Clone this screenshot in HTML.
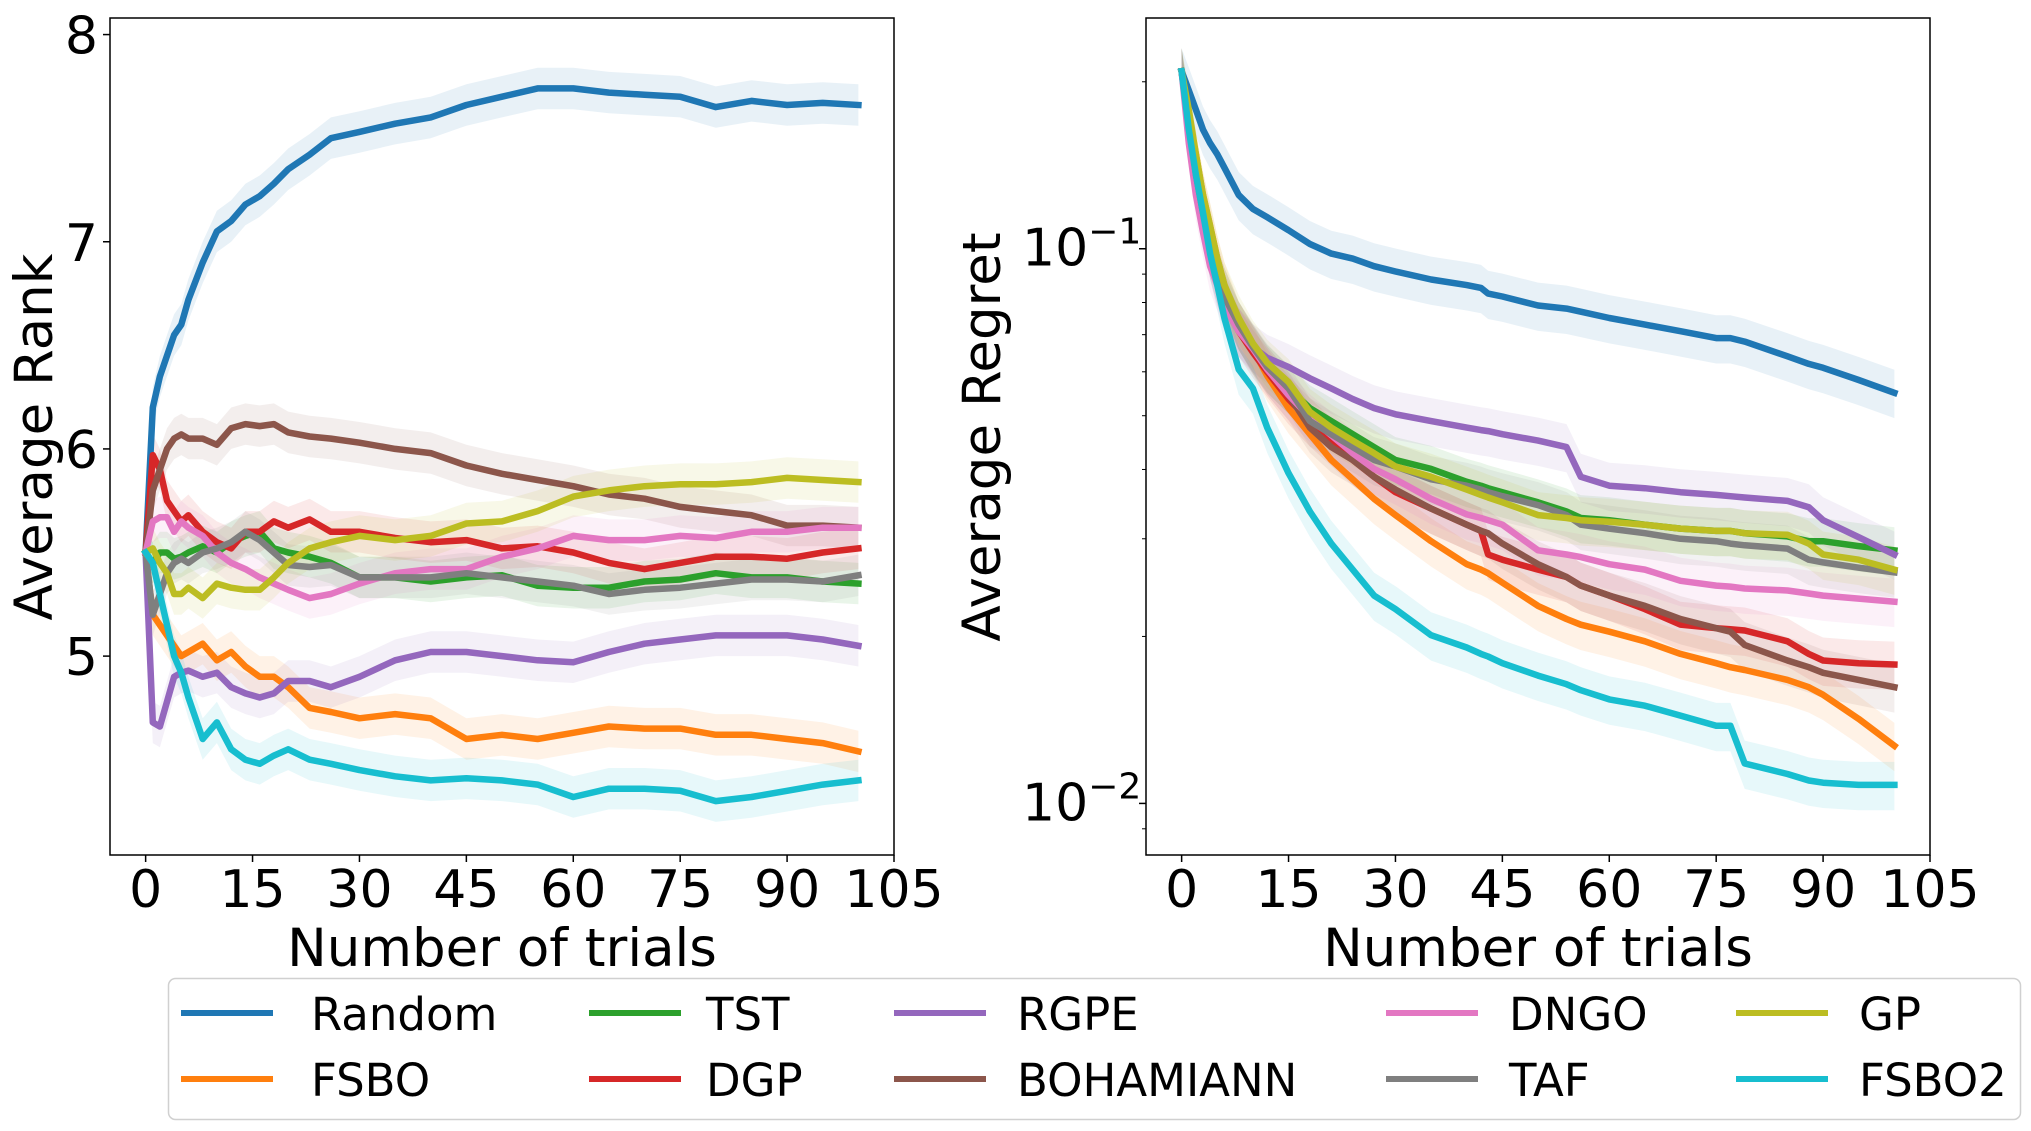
<!DOCTYPE html>
<html><head><meta charset="utf-8"><style>
html,body{margin:0;padding:0;background:#fff;}
svg{display:block;font-family:"DejaVu Sans","Liberation Sans",sans-serif;}
</style></head>
<body>
<svg id="fig" xmlns="http://www.w3.org/2000/svg" width="2031" height="1131" viewBox="0 0 2031 1131">
<rect width="2031" height="1131" fill="#fff"/>
<g id="left"></g>
<g id="right"></g>
<g id="legend"></g>
</svg>
<script>
const names = ["Random","FSBO","TST","DGP","RGPE","BOHAMIANN","DNGO","TAF","GP","FSBO2"];
const colors = ["#1f77b4","#ff7f0e","#2ca02c","#d62728","#9467bd","#8c564b","#e377c2","#7f7f7f","#bcbd22","#17becf"];
const xTicks = [0,15,30,45,60,75,90,105];
const rankTicks = [5,6,7,8];

const rankTrials = [0,1,2,3,4,5,6,8,10,12,14,16,18,20,23,26,30,35,40,45,50,55,60,65,70,75,80,85,90,95,100];
const rankRandom = [5.5,6.2,6.35,6.45,6.55,6.6,6.72,6.9,7.05,7.1,7.18,7.22,7.28,7.35,7.42,7.5,7.53,7.57,7.6,7.66,7.7,7.74,7.74,7.72,7.71,7.7,7.65,7.68,7.66,7.67,7.66];
const rankFSBO = [5.5,5.2,5.15,5.1,5.05,5.0,5.02,5.06,4.98,5.02,4.95,4.9,4.9,4.85,4.75,4.73,4.7,4.72,4.7,4.6,4.62,4.6,4.63,4.66,4.65,4.65,4.62,4.62,4.6,4.58,4.54];
const rankTST = [5.5,5.45,5.5,5.5,5.47,5.48,5.5,5.53,5.5,5.55,5.58,5.6,5.52,5.5,5.48,5.45,5.38,5.38,5.36,5.38,5.39,5.34,5.33,5.33,5.36,5.37,5.4,5.38,5.38,5.36,5.35];
const rankDGP = [5.5,5.97,5.9,5.75,5.7,5.65,5.68,5.6,5.55,5.52,5.6,5.6,5.65,5.62,5.66,5.6,5.6,5.57,5.55,5.56,5.52,5.53,5.5,5.45,5.42,5.45,5.48,5.48,5.47,5.5,5.52];
const rankRGPE = [5.5,4.68,4.66,4.78,4.9,4.92,4.93,4.9,4.92,4.85,4.82,4.8,4.82,4.88,4.88,4.85,4.9,4.98,5.02,5.02,5.0,4.98,4.97,5.02,5.06,5.08,5.1,5.1,5.1,5.08,5.05];
const rankBOHAMIANN = [5.5,5.8,5.9,6.0,6.05,6.07,6.05,6.05,6.02,6.1,6.12,6.11,6.12,6.08,6.06,6.05,6.03,6.0,5.98,5.92,5.88,5.85,5.82,5.78,5.76,5.72,5.7,5.68,5.63,5.63,5.62];
const rankDNGO = [5.5,5.65,5.67,5.67,5.6,5.65,5.62,5.58,5.5,5.45,5.42,5.38,5.35,5.32,5.28,5.3,5.35,5.4,5.42,5.42,5.48,5.52,5.58,5.56,5.56,5.58,5.57,5.6,5.6,5.62,5.62];
const rankTAF = [5.5,5.2,5.3,5.4,5.45,5.47,5.45,5.5,5.52,5.55,5.6,5.56,5.5,5.44,5.43,5.44,5.38,5.38,5.38,5.4,5.38,5.36,5.34,5.3,5.32,5.33,5.35,5.37,5.37,5.36,5.39];
const rankGP = [5.5,5.52,5.45,5.4,5.3,5.3,5.33,5.28,5.35,5.33,5.32,5.32,5.38,5.45,5.52,5.55,5.58,5.56,5.58,5.64,5.65,5.7,5.77,5.8,5.82,5.83,5.83,5.84,5.86,5.85,5.84];
const rankFSBO2 = [5.5,5.45,5.3,5.15,5.0,4.92,4.8,4.6,4.68,4.55,4.5,4.48,4.52,4.55,4.5,4.48,4.45,4.42,4.4,4.41,4.4,4.38,4.32,4.36,4.36,4.35,4.3,4.32,4.35,4.38,4.4];

const regretTrials = [0,1,2,3,4,5,6,8,10,12,15,18,21,24,27,30,35,40,42,43,45,50,54,56,60,65,70,75,77,79,85,88,90,95,100];
const regretRandom = [0.209,0.193,0.178,0.164,0.155,0.148,0.140,0.125,0.118,0.114,0.108,0.102,0.098,0.096,0.093,0.091,0.088,0.086,0.085,0.083,0.082,0.079,0.078,0.077,0.075,0.073,0.071,0.069,0.069,0.068,0.064,0.062,0.061,0.058,0.055];
const regretFSBO = [0.209,0.173,0.148,0.125,0.110,0.096,0.086,0.073,0.066,0.059,0.0516,0.0463,0.0416,0.0384,0.0354,0.0331,0.0297,0.0270,0.0264,0.0260,0.0250,0.0227,0.0215,0.0210,0.0204,0.0196,0.0186,0.0179,0.0176,0.0174,0.0167,0.0162,0.0157,0.0142,0.0127];
const regretTST = [0.209,0.169,0.140,0.116,0.101,0.091,0.084,0.073,0.066,0.061,0.056,0.0516,0.0489,0.0463,0.0439,0.0416,0.0401,0.0380,0.0374,0.0370,0.0364,0.0349,0.0336,0.0327,0.0324,0.0318,0.0313,0.0310,0.0310,0.0307,0.0303,0.0297,0.0297,0.0291,0.0286];
const regretDGP = [0.209,0.164,0.132,0.113,0.098,0.088,0.081,0.071,0.065,0.060,0.0536,0.0489,0.0451,0.0416,0.0388,0.0364,0.0340,0.0318,0.0310,0.0281,0.0275,0.0264,0.0256,0.0247,0.0237,0.0224,0.0210,0.0207,0.0206,0.0205,0.0196,0.0186,0.0181,0.0179,0.0178];
const regretRGPE = [0.209,0.164,0.132,0.113,0.098,0.088,0.079,0.071,0.0665,0.0636,0.0612,0.0584,0.056,0.0536,0.0516,0.0503,0.0489,0.0476,0.0471,0.0469,0.0463,0.0451,0.0439,0.0388,0.0374,0.0370,0.0364,0.0360,0.0358,0.0356,0.0351,0.0342,0.0324,0.0302,0.0281];
const regretBOHAMIANN = [0.209,0.173,0.144,0.122,0.107,0.093,0.084,0.073,0.0665,0.0606,0.0545,0.0476,0.0439,0.0416,0.0388,0.0368,0.0340,0.0318,0.0310,0.0307,0.0294,0.0270,0.0256,0.0247,0.0237,0.0227,0.0215,0.0207,0.0204,0.0193,0.0181,0.0176,0.0172,0.0167,0.0162];
const regretDNGO = [0.209,0.155,0.125,0.107,0.093,0.086,0.079,0.071,0.066,0.0606,0.0545,0.0497,0.0461,0.0428,0.0401,0.0384,0.0354,0.0332,0.0327,0.0324,0.0318,0.0286,0.0281,0.0278,0.0270,0.0264,0.0252,0.0247,0.0246,0.0244,0.0242,0.0239,0.0237,0.0234,0.0231];
const regretTAF = [0.209,0.169,0.136,0.116,0.101,0.091,0.082,0.073,0.0665,0.0612,0.056,0.0489,0.0463,0.0439,0.0416,0.0405,0.0384,0.0374,0.0368,0.0364,0.0358,0.0345,0.0331,0.0318,0.0313,0.0307,0.0300,0.0297,0.0294,0.0292,0.0288,0.0275,0.0272,0.0266,0.0261];
const regretGP = [0.209,0.178,0.148,0.125,0.110,0.096,0.086,0.075,0.0675,0.0623,0.0575,0.0508,0.0476,0.0451,0.0428,0.0405,0.0388,0.0368,0.0360,0.0356,0.0349,0.0331,0.0327,0.0324,0.0322,0.0318,0.0313,0.0310,0.0310,0.0307,0.0305,0.0294,0.0281,0.0275,0.0264];
const regretFSBO2 = [0.209,0.164,0.136,0.116,0.098,0.086,0.075,0.0606,0.056,0.0476,0.0394,0.0336,0.0294,0.0264,0.0237,0.0224,0.0201,0.0191,0.0186,0.0184,0.0179,0.0170,0.0164,0.0160,0.0154,0.0150,0.0144,0.0138,0.0138,0.0118,0.0113,0.0110,0.0109,0.0108,0.0108];

const rankSeries = [rankRandom,rankFSBO,rankTST,rankDGP,rankRGPE,rankBOHAMIANN,rankDNGO,rankTAF,rankGP,rankFSBO2];
const regretSeries = [regretRandom,regretFSBO,regretTST,regretDGP,regretRGPE,regretBOHAMIANN,regretDNGO,regretTAF,regretGP,regretFSBO2];

const NS = "http://www.w3.org/2000/svg";
function mk(tag, attrs, parent){const e=document.createElementNS(NS,tag);for(const k in attrs)e.setAttribute(k,attrs[k]);parent.appendChild(e);return e;}

const L = {x0:110,x1:894,y0:18,y1:855};
const R = {x0:1146,x1:1930,y0:18,y1:855};
const XMIN=-5, XMAX=105;
function xL(t){return L.x0+(t-XMIN)/(XMAX-XMIN)*(L.x1-L.x0);}
function xR(t){return R.x0+(t-XMIN)/(XMAX-XMIN)*(R.x1-R.x0);}
const YMIN=4.04, YMAX=8.08;
function yL(v){return L.y1-(v-YMIN)/(YMAX-YMIN)*(L.y1-L.y0);}
const LMIN=-2.093, LMAX=-0.584;
function yR(v){return R.y1-(Math.log10(v)-LMIN)/(LMAX-LMIN)*(R.y1-R.y0);}

const left=document.getElementById('left'), right=document.getElementById('right'), legend=document.getElementById('legend');

function drawSeries(g, trials, series, xf, yf, lo, hi){
  series.forEach((vals,i)=>{
    let up=[],dn=[];
    trials.forEach((t,j)=>{up.push(xf(t).toFixed(1)+','+yf(hi(vals[j])).toFixed(1));dn.push(xf(t).toFixed(1)+','+yf(lo(vals[j])).toFixed(1));});
    const band=mk('polygon',{points:up.concat(dn.reverse()).join(' '),fill:colors[i],'fill-opacity':0.1,stroke:'none'},g);
    
    
  });
  series.forEach((vals,i)=>{
    const pts=trials.map((t,j)=>xf(t).toFixed(1)+','+yf(vals[j]).toFixed(1)).join(' ');
    const ln=mk('polyline',{points:pts,fill:'none',stroke:colors[i],'stroke-width':6.5,'stroke-linejoin':'round','stroke-linecap':'square'},g);
    
    
  });
}

function drawFrame(g, A, xf){
  const r=mk('rect',{x:A.x0,y:A.y0,width:A.x1-A.x0,height:A.y1-A.y0,fill:'none',stroke:'#000','stroke-width':1.5},g);
  
  
  xTicks.forEach(t=>{
    const x=xf(t);
    mk('line',{x1:x,y1:A.y1,x2:x,y2:A.y1+7,stroke:'#000','stroke-width':1.5},g);
    const tx=mk('text',{x:x,y:907,'font-size':52,'text-anchor':'middle',fill:'#000'},g);
    tx.textContent=t;
    
    
  });
  const xl=mk('text',{x:(A.x0+A.x1)/2,y:966,'font-size':53,'text-anchor':'middle',fill:'#000'},g);
  xl.textContent='Number of trials';
  
  
}

drawSeries(left, rankTrials, rankSeries, xL, yL, v=>v-0.1, v=>v+0.1);
drawFrame(left, L, xL);
rankTicks.forEach(v=>{
  const y=yL(v);
  mk('line',{x1:L.x0-7,y1:y,x2:L.x0,y2:y,stroke:'#000','stroke-width':1.5},left);
  const t=mk('text',{x:L.x0-12,y:y+19,'font-size':52,'text-anchor':'end',fill:'#000'},left);
  t.textContent=v;
  
  
});
const ylL=mk('text',{x:0,y:0,'font-size':53,'text-anchor':'middle',fill:'#000',transform:'translate(52,437) rotate(-90)'},left);
ylL.textContent='Average Rank';



drawSeries(right, regretTrials, regretSeries, xR, yR, v=>v*0.9, v=>v*1.1);
drawFrame(right, R, xR);
[0.01,0.1].forEach((v,k)=>{
  const y=yR(v);
  mk('line',{x1:R.x0-7,y1:y,x2:R.x0,y2:y,stroke:'#000','stroke-width':1.5},right);
  const t=mk('text',{x:1022,y:y+17,'font-size':52,fill:'#000'},right);
  
  
  const a=mk('tspan',{},t); a.textContent='10';
  const b=mk('tspan',{dy:-22,'font-size':36},t); b.textContent=k===0?'\u22122':'\u22121';
});
[0.009,0.02,0.03,0.04,0.05,0.06,0.07,0.08,0.09,0.2].forEach(v=>{
  const y=yR(v);
  mk('line',{x1:R.x0-4,y1:y,x2:R.x0,y2:y,stroke:'#000','stroke-width':1},right);
});
const ylR=mk('text',{x:0,y:0,'font-size':53,'text-anchor':'middle',fill:'#000',transform:'translate(1000,437) rotate(-90)'},right);
ylR.textContent='Average Regret';



const box=mk('rect',{x:168.5,y:978.5,width:1852,height:141,rx:7,fill:'#fff',stroke:'#d0d0d0','stroke-width':1.5},legend);


const hx=[181,589,894,1386,1736], txp=[311,706,1017,1509,1859], rowY=[1013,1079];
names.forEach((n,i)=>{
  const c=Math.floor(i/2), r=i%2;
  const g=mk('g',{},legend);
  
  
  mk('line',{x1:hx[c],y1:rowY[r],x2:hx[c]+92,y2:rowY[r],stroke:colors[i],'stroke-width':6},g);
  const t=mk('text',{x:txp[c],y:rowY[r]+17,'font-size':45,fill:'#000'},g);
  t.textContent=n;
});
</script>
</body></html>
